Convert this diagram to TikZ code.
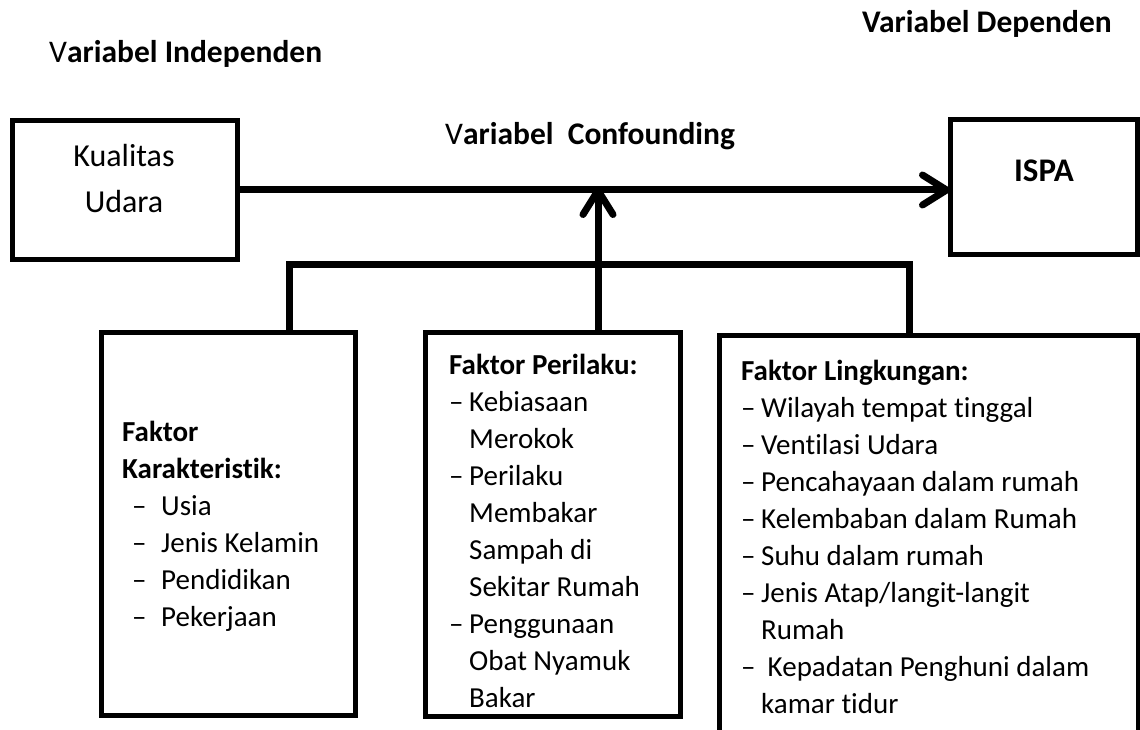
\documentclass[tikz,border=0pt]{standalone}
\usepackage{fontspec}
\setmainfont{Carlito}[Ligatures=NoCommon]
\usetikzlibrary{arrows.meta,calc}
\newcommand{\stk}[1]{\vtop{\baselineskip=37pt\lineskiplimit=-100pt\lineskip=0pt\halign{##\hfil\cr#1\crcr}}}
\newcommand{\da}{\makebox[20pt][l]{–}}
\newcommand{\ia}{\hspace*{20pt}}
\newcommand{\db}{\hspace*{10pt}\makebox[29pt][l]{–}}
\begin{document}
\begin{tikzpicture}[x=1pt,y=-1pt,
  box/.style={draw, line width=5pt, anchor=north west, inner sep=0pt, outer sep=0pt},
  conn/.style={line width=7pt},
  arr/.style={line width=7pt, -{Straight Barb[length=24pt,width=30pt,round]}},
  head/.style={font=\fontsize{31.5}{38}\selectfont\bfseries, inner sep=0pt, anchor=base west},
  body/.style={font=\fontsize{29}{37}\selectfont, inner sep=0pt, anchor=base west},
  big/.style={font=\fontsize{32}{40}\selectfont, inner sep=0pt, anchor=base}]
\useasboundingbox (0,0) rectangle (1140,730);
% headings
\node[head] (hdep) at (862,33) {Variabel Dependen};
\node[head] (hind) at (49,63) {{\mdseries V}ariabel Independen};
\node[head] (hconf) at (445,145) {{\mdseries V}ariabel\ \ Confounding};
% boxes
\node[box, minimum width=225pt, minimum height=138pt] (kual) at (12,121) {};
\node[big] (kualt) at (124,167) {Kualitas};
\node[big] (kualu) at (124,212) {Udara};
\node[box, minimum width=187pt, minimum height=134pt] (ispa) at (950,120) {};
\node[big, font=\fontsize{33}{40}\selectfont\bfseries] (ispat) at (1044,182) {ISPA};
\node[box, minimum width=254pt, minimum height=383pt] (b1) at (101,332) {};
\node[box, minimum width=255pt, minimum height=384pt] (b2) at (425,332) {};
\node[box, minimum width=419pt, minimum height=430pt] (b3) at (719,335) {};
% texts
\node[body] (t1) at (122,441) {\stk{\textbf{Faktor}\cr\textbf{Karakteristik:}\cr\db Usia\cr\db Jenis Kelamin\cr\db Pendidikan\cr\db Pekerjaan}};
\node[body] (t2) at (449,374) {\stk{\textbf{Faktor Perilaku:}\cr\da Kebiasaan\cr\ia Merokok\cr\da Perilaku\cr\ia Membakar\cr\ia Sampah di\cr\ia Sekitar Rumah\cr\da Penggunaan\cr\ia Obat Nyamuk\cr\ia Bakar}};
\node[body] (t3) at (741,380) {\stk{\textbf{Faktor Lingkungan:}\cr\da Wilayah tempat tinggal\cr\da Ventilasi Udara\cr\da Pencahayaan dalam rumah\cr\da Kelembaban dalam Rumah\cr\da Suhu dalam rumah\cr\da Jenis Atap/langit-langit\cr\ia Rumah\cr\da\ Kepadatan Penghuni dalam\cr\ia kamar tidur}};
% connectors
\coordinate (conf) at (598,191);
\coordinate (bl) at (289,264);
\coordinate (br) at (909,264);
\draw[arr] (kual.east) -- (kual.east -| ispa.west);
\draw[arr] (b2.north -| conf) -- ([yshift=4pt]conf);
\draw[conn] (b1.north -| bl) -- (bl) -- (br) -- (b3.north -| br);
\end{tikzpicture}
\end{document}
